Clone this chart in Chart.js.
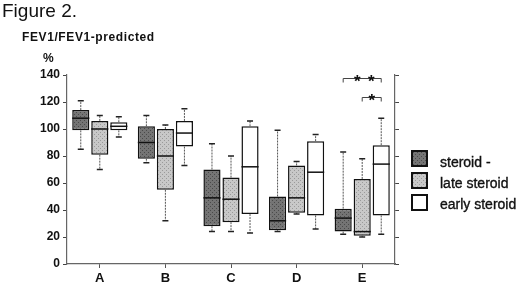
<!DOCTYPE html>
<html>
<head>
<meta charset="utf-8">
<script src="https://cdn.jsdelivr.net/npm/chart.js@4.4.1/dist/chart.umd.min.js"></script>
<style>
  body { margin: 0; background: #fff; }
  #wrap { position: relative; width: 520px; height: 284px; overflow: hidden; font-family: "Liberation Sans", Arial, sans-serif; color: #111; }
  #chart { position: absolute; left: 0; top: 0; }
  .txt { position: absolute; white-space: nowrap; }
  #fig { left: 2px; top: 0px; font-size: 19px; }
  #ytitle { left: 22px; top: 30px; font-size: 12px; font-weight: bold; letter-spacing: 0.6px; }
  #pct { left: 43px; top: 51px; font-size: 12px; font-weight: bold; }
  .sw { position: absolute; left: 411px; width: 13px; height: 13px; border: 2px solid #111; }
  .lg { position: absolute; left: 440px; font-size: 14px; line-height: 18px; -webkit-text-stroke: 0.35px #111; }
</style>
</head>
<body>
<div id="wrap">
  <canvas id="chart" width="520" height="284"></canvas>
  <div class="txt" id="fig">Figure 2.</div>
  <div class="txt" id="ytitle">FEV1/FEV1-predicted</div>
  <div class="txt" id="pct">%</div>
  <div class="sw" id="sw0" style="top:150px"></div>
  <div class="sw" id="sw1" style="top:172px"></div>
  <div class="sw" id="sw2" style="top:194px"></div>
  <div class="txt lg" id="lg0" style="top:153px"></div>
  <div class="txt lg" id="lg1" style="top:174px"></div>
  <div class="txt lg" id="lg2" style="top:195px"></div>
</div>
<script>
// kategorie a skupiny
const categories = ['A', 'B', 'C', 'D', 'E'];
const groups = ['steroid -', 'late steroid', 'early steroid'];

// steroid -
const noneMin = [85, 75, 24, 24, 22];
const noneQ1  = [99, 78, 28, 25, 24];
const noneMed = [108, 90, 49, 32, 34];
const noneQ3  = [114, 102, 70, 50, 41];
const noneMax = [121, 110, 89, 99, 83];

// late steroid
const lateMin = [70, 32, 24, 37, 20];
const lateQ1  = [81, 55, 31, 38, 21];
const lateMed = [100, 80, 48, 49, 24];
const lateQ3  = [106, 100, 64, 73, 63];
const lateMax = [110, 103, 80, 76, 78];

// early steroid
const earlyMin = [94, 73, 23, 26, 22];
const earlyQ1  = [99, 87, 37, 36, 36];
const earlyMed = [102, 97, 72, 68, 74];
const earlyQ3  = [105, 106, 102, 91, 88];
const earlyMax = [109, 115, 106, 96, 108];

// signifikance (skupina E)
const sigCategory = 4;
const sigFrom = [0, 1];
const sigTo = [2, 2];
const sigLevel = [138, 124];
const sigStars = [2, 1];

const yTicks = [0, 20, 40, 60, 80, 100, 120, 140];

const mins = [noneMin, lateMin, earlyMin];
const q1s = [noneQ1, lateQ1, earlyQ1];
const meds = [noneMed, lateMed, earlyMed];
const q3s = [noneQ3, lateQ3, earlyQ3];
const maxs = [noneMax, lateMax, earlyMax];

// vzorky vyplne
function makeTile(base, dot) {
    const c = document.createElement('canvas');
    c.width = 4; c.height = 4;
    const g = c.getContext('2d');
    g.fillStyle = base; g.fillRect(0, 0, 4, 4);
    g.fillStyle = dot; g.fillRect(0, 0, 1, 1); g.fillRect(2, 2, 1, 1);
    return c;
}
const tiles = [makeTile('#747474', '#4a4a4a'), makeTile('#c8c8c8', '#9a9a9a'), makeTile('#ffffff', '#ffffff')];

const canvas = document.getElementById('chart');
const ctx = canvas.getContext('2d');
const fills = tiles.map(t => ctx.createPattern(t, 'repeat'));

groups.forEach((g, i) => {
    document.getElementById('lg' + i).textContent = g;
    document.getElementById('sw' + i).style.background = 'url(' + tiles[i].toDataURL() + ')';
});

// kresleni vousu, medianu a hvezdicek
const boxPlugin = {
    id: 'boxExtras',
    afterDatasetsDraw(chart) {
        const c = chart.ctx;
        const y = chart.scales.y;
        c.save();
        chart.data.datasets.forEach((ds, i) => {
            const meta = chart.getDatasetMeta(i);
            meta.data.forEach((bar, j) => {
                const x = bar.x, w = bar.width;
                const yMin = y.getPixelForValue(mins[i][j]);
                const yMax = y.getPixelForValue(maxs[i][j]);
                const yQ1 = y.getPixelForValue(q1s[i][j]);
                const yQ3 = y.getPixelForValue(q3s[i][j]);
                const yMed = y.getPixelForValue(meds[i][j]);
                // vousy
                c.strokeStyle = '#555';
                c.lineWidth = 1;
                c.setLineDash([2, 1]);
                c.beginPath();
                c.moveTo(x, yQ3); c.lineTo(x, yMax);
                c.moveTo(x, yQ1); c.lineTo(x, yMin);
                c.stroke();
                c.setLineDash([]);
                c.strokeStyle = '#222';
                c.lineWidth = 1.5;
                c.beginPath();
                c.moveTo(x - 3, yMax); c.lineTo(x + 3, yMax);
                c.moveTo(x - 3, yMin); c.lineTo(x + 3, yMin);
                c.stroke();
                // median
                c.strokeStyle = '#111';
                c.lineWidth = 1.5;
                c.beginPath();
                c.moveTo(x - w / 2, yMed); c.lineTo(x + w / 2, yMed);
                c.stroke();
            });
        });
        // zavorky signifikance
        sigFrom.forEach((f, k) => {
            const x1 = chart.getDatasetMeta(f).data[sigCategory].x;
            const x2 = chart.getDatasetMeta(sigTo[k]).data[sigCategory].x;
            const yy = Math.round(y.getPixelForValue(sigLevel[k])) + 0.5;
            c.strokeStyle = '#444';
            c.lineWidth = 1;
            c.beginPath();
            c.moveTo(x1, yy + 4); c.lineTo(x1, yy); c.lineTo(x2, yy); c.lineTo(x2, yy + 4);
            c.stroke();
            c.fillStyle = '#111';
            c.font = 'bold 17px "Liberation Sans", Arial, sans-serif';
            c.textAlign = 'center';
            c.textBaseline = 'middle';
            const mid = (x1 + x2) / 2 + (sigStars[k] > 1 ? 2 : 0);
            for (let s = 0; s < sigStars[k]; s++) {
                const sx = mid + (s - (sigStars[k] - 1) / 2) * 14;
                c.fillText('*', sx, yy + 4);
            }
        });
        c.restore();
    }
};

const tickFont = { family: '"Liberation Sans", Arial, sans-serif', size: 12, weight: 'bold' };

new Chart(ctx, {
    type: 'bar',
    data: {
        labels: categories,
        datasets: groups.map((g, i) => ({
            label: g,
            data: categories.map((c, j) => [q1s[i][j], q3s[i][j]]),
            backgroundColor: fills[i],
            borderColor: '#111',
            borderWidth: 1.5,
            borderSkipped: false,
            categoryPercentage: 0.87,
            barPercentage: 0.9
        }))
    },
    options: {
        responsive: false,
        animation: false,
        layout: { padding: { top: 75, left: 0, right: 0, bottom: 0 } },
        plugins: { legend: { display: false }, tooltip: { enabled: false } },
        scales: {
            x: {
                grid: { drawOnChartArea: false, offset: false, tickLength: 4, color: '#555' },
                border: { color: '#666', width: 1.2, dash: [2, 1] },
                ticks: { font: { ...tickFont, size: 13 }, color: '#111', padding: 3 },
                afterFit: s => { s.height = 20; }
            },
            y: {
                min: 0, max: 140,
                afterBuildTicks: s => { s.ticks = [];
                    for (let v = 0; v <= 140; v += 10) s.ticks.push({ value: v }); },
                ticks: { font: tickFont, color: '#111', padding: 3,
                    callback: v => yTicks.includes(v) ? v : '' },
                grid: { drawOnChartArea: false, tickLength: 4,
                    color: c => (c.tick && c.tick.value % 20) ? '#aaa' : '#444' },
                border: { color: '#666', width: 1.2, dash: [2, 1] },
                afterFit: s => { s.width = 67; }
            },
            y2: {
                position: 'right',
                min: 0, max: 140,
                afterBuildTicks: s => { s.ticks = [];
                    for (let v = 0; v <= 140; v += 10) s.ticks.push({ value: v }); },
                ticks: { callback: () => '', padding: 0 },
                grid: { drawOnChartArea: false, tickLength: 4,
                    color: c => (c.tick && c.tick.value % 20) ? '#aaa' : '#444' },
                border: { color: '#666', width: 1.2, dash: [2, 1] },
                afterFit: s => { s.width = 125; }
            }
        }
    },
    plugins: [boxPlugin]
});
</script>
</body>
</html>
